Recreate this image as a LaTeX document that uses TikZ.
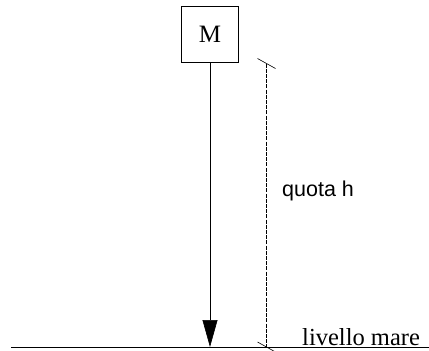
\documentclass[tikz,border=0pt]{standalone}
\usepackage{fontspec}
\setmainfont{Liberation Serif}
\newfontfamily\arialfont{Liberation Sans}
\usetikzlibrary{arrows.meta,positioning,calc}

\begin{document}
\begin{tikzpicture}[
  x=1pt, y=-1pt,
  massa/.style={draw, line width=0.6pt, minimum size=56.5pt, inner sep=0pt,
    font=\fontsize{25}{25}\selectfont},
  caduta/.style={-{Triangle[length=27pt,width=15pt]}, line width=0.6pt},
  quota/.style={line width=0.6pt, dash pattern=on 4pt off 1.2pt},
  tacca/.style={line width=0.6pt},
  etic/.style={inner sep=0pt, anchor=base west},
]
  \useasboundingbox (0,0) rectangle (429,351);

  % massa M
  \node[massa] (m) at (210,34.3) {M};

  % livello del mare
  \coordinate (mareA) at (11,347);
  \coordinate (mareB) at (429,347);
  \coordinate (piede) at (210,347);
  \draw[line width=0.8pt] (mareA) -- (mareB);

  % caduta della massa
  \draw[caduta] (m.south) -- (piede);

  % quota h con le tacche
  \coordinate (qtop) at (266.5,63.5);
  \coordinate (qbot) at (266.5,347);
  \draw[quota] (qtop) -- (qbot);
  \draw[tacca] ($(qtop)+(-9,-5)$) -- ($(qtop)+(9,5)$);
  \draw[tacca] ($(qbot)+(-9,-5)$) -- ($(qbot)+(9,5)$);

  % etichette
  \node[etic, font=\arialfont\fontsize{21.5}{21.5}\selectfont] (qh) at (282,196) {quota h};
  \node[etic, font=\fontsize{24.5}{24.5}\selectfont] (lm) at (302,345.5) {livello mare};
\end{tikzpicture}
\end{document}
